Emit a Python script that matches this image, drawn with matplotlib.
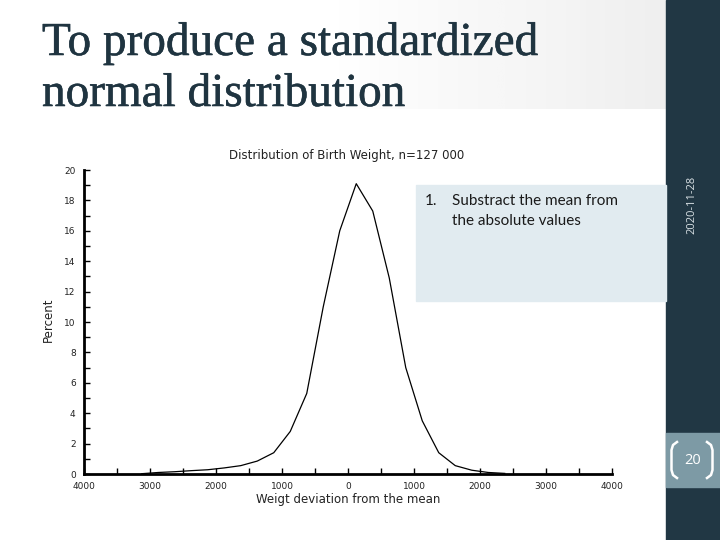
import numpy as np
import matplotlib
matplotlib.use('Agg')
import matplotlib.pyplot as plt
import matplotlib.patheffects as pe
from matplotlib.patches import Rectangle
from matplotlib.lines import Line2D
from matplotlib.ticker import MultipleLocator, FixedLocator

W, H = 720, 540

# frequency polygon, 250 g bins (bin midpoints)
bin_mid = [-3125, -2875, -2625, -2375, -2125, -1875, -1625, -1375, -1125, -875, -625, -375,
           -125, 125, 375, 625, 875, 1125, 1375, 1625, 1875, 2125, 2375]
percent = [0.02, 0.10, 0.15, 0.22, 0.28, 0.40, 0.55, 0.85, 1.40, 2.8, 5.3, 11.0,
           16.0, 19.1, 17.3, 12.9, 7.0, 3.5, 1.4, 0.55, 0.25, 0.10, 0.04]

x_ticks = [-4000, -3000, -2000, -1000, 0, 1000, 2000, 3000, 4000]
x_tick_labels = ['4000', '3000', '2000', '1000', '0', '1000', '2000', '3000', '4000']
y_ticks = [0, 2, 4, 6, 8, 10, 12, 14, 16, 18, 20]

title_lines = ['To produce a standardized', 'normal distribution']
chart_title = 'Distribution of Birth Weight, n=127 000'
x_label = 'Weigt deviation from the mean'
y_label = 'Percent'
bullet = ['Substract the mean from', 'the absolute values']
date_text = '2020-11-28'
page_no = '20'

NAVY = '#213744'


def fx(x):
    return x / W


def fy(y):
    return 1 - y / H


fig = plt.figure(figsize=(7.2, 5.4), dpi=100)
fig.patch.set_facecolor('white')

# title band with a soft grey gradient to the right
bg = fig.add_axes([0, fy(109), fx(666), 109 / H], zorder=-2)
grad = np.clip((np.linspace(0, 666, 400) - 330) / 336, 0, 1)
bg.imshow(grad[None, :], aspect='auto', cmap='Greys', vmin=0, vmax=7.5,
          extent=[0, 1, 0, 1])
bg.set_axis_off()

for i, line in enumerate(title_lines):
    fig.text(fx(42), fy(55 + 51 * i), line, family=['Liberation Serif', 'DejaVu Serif'],
             fontsize=34, color='#1f3440', va='baseline', ha='left',
             path_effects=[pe.withStroke(linewidth=0.4, foreground='#1f3440')])

# right sidebar
fig.add_artist(Rectangle((fx(666), 0), fx(54), 1, transform=fig.transFigure,
                         color=NAVY, zorder=1))
fig.add_artist(Rectangle((fx(666), fy(487)), fx(54), 54 / H, transform=fig.transFigure,
                         color='#7d9aa5', zorder=1.5))
fig.text(fx(692), fy(205), date_text, rotation=90, ha='center', va='center',
         color='#d9e1e5', fontsize=8, family=['Open Sans', 'DejaVu Sans'], zorder=3)
fig.text(fx(692.5), fy(461), page_no, ha='center', va='center', color='white',
         fontsize=10.5, family=['Open Sans', 'DejaVu Sans'], zorder=3)
lb = [(677, 442), (673, 445), (671.5, 450), (671.5, 470), (673, 475), (677, 478)]
rb = [(707, 442), (711, 445), (712.5, 450), (712.5, 470), (711, 475), (707, 478)]
for pts in (lb, rb):
    fig.add_artist(Line2D([fx(p[0]) for p in pts], [fy(p[1]) for p in pts],
                          transform=fig.transFigure, color='white', lw=1.8, zorder=3))

# the chart
ax = fig.add_axes([fx(84), fy(474), 528 / W, 304 / H])
ax.set_facecolor('none')
ax.plot(bin_mid, percent, color='black', lw=0.9)
ax.set_xlim(-4000, 4000)
ax.set_ylim(0, 20)
for s in ['top', 'right']:
    ax.spines[s].set_visible(False)
for s in ['left', 'bottom']:
    ax.spines[s].set_linewidth(2)
ax.xaxis.set_major_locator(FixedLocator(x_ticks))
ax.set_xticklabels(x_tick_labels)
ax.xaxis.set_minor_locator(MultipleLocator(500))
ax.set_yticks(y_ticks)
ax.yaxis.set_minor_locator(MultipleLocator(1))
ax.tick_params(which='both', direction='in', length=4, width=1, labelsize=6.5,
               labelcolor='#222222')
ax.tick_params(axis='x', pad=6)
ax.tick_params(axis='y', pad=6)
ax.text(0.498, 1 + 15 / 304, chart_title, transform=ax.transAxes, ha='center',
        va='center', fontsize=8.5, color='#222222')
ax.text(0.5, -26 / 304, x_label, transform=ax.transAxes, ha='center', va='center',
        fontsize=8.5, color='#222222')
ax.text(-36 / 528, 0.507, y_label, transform=ax.transAxes, ha='center', va='center',
        rotation=90, fontsize=8.5, color='#222222')

# callout box
fig.add_artist(Rectangle((fx(416), fy(301)), 250 / W, 116 / H, transform=fig.transFigure,
                         color='#e1ebf0', zorder=2))
fig.text(fx(425), fy(201), '1.', family=['Lato', 'DejaVu Sans'], fontsize=11,
         color='#1a1a1a', va='center', zorder=3)
for i, line in enumerate(bullet):
    fig.text(fx(452), fy(201 + 20 * i), line, family=['Lato', 'DejaVu Sans'],
             fontsize=11, color='#1a1a1a', va='center', zorder=3)

fig.savefig('out.png', dpi=100)
